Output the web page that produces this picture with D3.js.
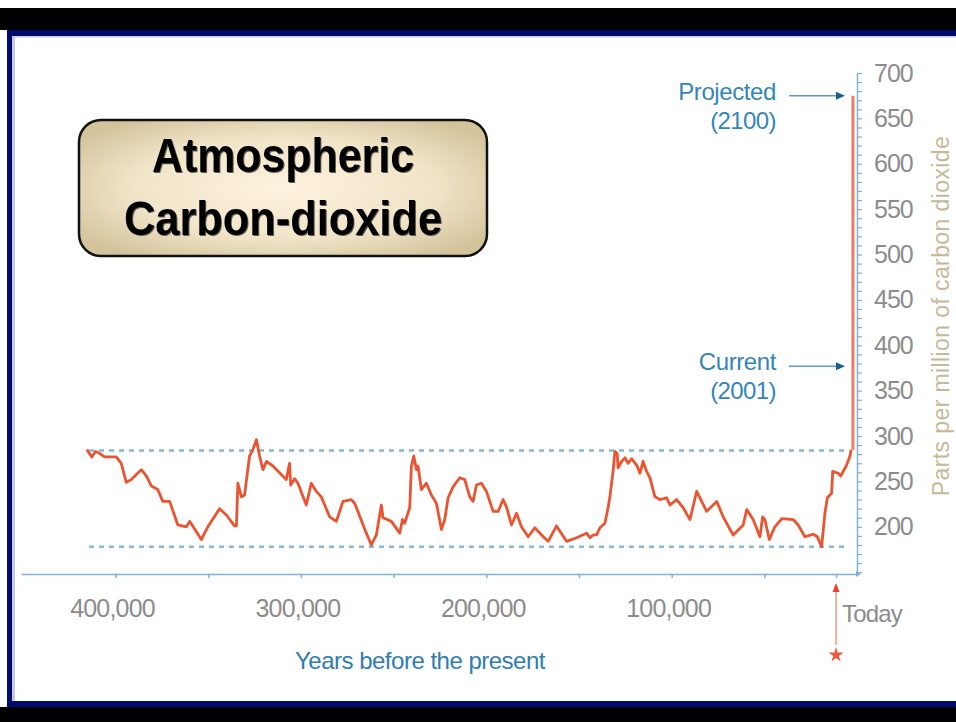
<!DOCTYPE html>
<html>
<head>
<meta charset="utf-8">
<script src="https://cdn.jsdelivr.net/npm/d3@7"></script>
<style>
  body { margin: 0; background: #fff; }
  svg { display: block; font-family: "Liberation Sans", Arial, sans-serif; }
</style>
</head>
<body>
<svg id="svg" width="956" height="722"></svg>
<script>
"use strict";
var width = 956;
var height = 722;

// ice core record, years before present
var iceYears = [415500, 412800, 410800, 408600, 405900, 399600, 396900, 394200, 391500, 386100,
    383400, 380700, 377200, 374500, 370800, 366400, 361800, 360000, 353700, 350200,
    343900, 340200, 335800, 334800, 334000, 332100, 330400, 327700, 325900, 324000,
    322300, 320500, 318600, 315100, 307900, 306100, 305500, 303400, 301600, 297100,
    294400, 291700, 289000, 284500, 280900, 277300, 272800, 271000, 264700, 262000,
    259300, 256600, 255700, 251200, 246700, 245200, 244000, 241300, 240400, 239100,
    237700, 236800, 235000, 232300, 229600, 226900, 224200, 222400, 220600, 217900,
    216500, 214300, 211600, 208900, 207100, 205300, 202600, 199900, 196300, 193600,
    190900, 189100, 186400, 183700, 181000, 177400, 173800, 169300, 166600, 162100,
    156700, 151300, 145900, 144100, 142300, 140500, 138700, 136000, 134200, 133300,
    131500, 130600, 129400, 128900, 127000, 125200, 123500, 121600, 118900, 117100,
    115400, 113500, 111700, 109000, 106300, 102700, 100900, 97300, 93800, 90100,
    86500, 81100, 75700, 72200, 66800, 61400, 59500, 56000, 52400, 50900,
    49700, 47300, 44300, 40600, 34400, 31700, 28100, 23600, 21400, 19100,
    17300, 16000, 13700, 13100, 10100, 8800, 5600, 3800, 3200];
// parts per million CO2
var icePpm = [285, 277, 283, 281, 277, 277, 270, 249, 252, 263,
    256, 245, 241, 228, 228, 202, 200, 206, 186, 200,
    220, 213, 201, 201, 248, 233, 235, 278, 285, 296,
    278, 263, 272, 267, 252, 270, 246, 253, 248, 224,
    248, 239, 233, 211, 206, 228, 230, 226, 193, 180,
    191, 224, 210, 206, 193, 208, 204, 221, 267, 278,
    263, 267, 241, 248, 235, 226, 197, 208, 232, 244,
    248, 254, 252, 233, 228, 246, 248, 239, 217, 217,
    230, 222, 202, 215, 200, 189, 199, 189, 184, 201,
    184, 188, 193, 188, 191, 191, 199, 204, 222, 233,
    263, 283, 281, 265, 272, 276, 270, 275, 268, 259,
    272, 261, 254, 233, 230, 232, 224, 230, 221, 208,
    239, 217, 228, 211, 191, 202, 219, 208, 189, 211,
    208, 186, 200, 209, 208, 202, 189, 192, 189, 178,
    215, 232, 237, 261, 259, 256, 268, 278, 285];

// industrial rise up to the 2100 projection
var modernYears = [2200, 2200];
var modernPpm = [285, 675];

// glacial / interglacial bounds (dotted lines)
var boundsPpm = [284, 178];

var yTicksLabelled = d3.range(200, 701, 50);
var yTicksMinor = d3.range(150, 701, 10);
var xTicks = d3.range(50000, 400001, 50000);
var xTicksLabelled = [400000, 300000, 200000, 100000];
var todayYears = 11300;

var annotations = [
    { lines: ["Projected", "(2100)"], ppm: 675 },
    { lines: ["Current", "(2001)"], ppm: 377 }
];

var svg = d3.select("#svg");

// frame of the slide
svg.append("rect").attr("x", 0).attr("y", 8).attr("width", width).attr("height", 22).attr("fill", "#000");
svg.append("rect").attr("x", 0).attr("y", 707).attr("width", width).attr("height", 15).attr("fill", "#000");
svg.append("rect").attr("x", 7).attr("y", 30).attr("width", width - 7).attr("height", 6).attr("fill", "#000b6e");
svg.append("rect").attr("x", 7).attr("y", 30).attr("width", 5).attr("height", 677).attr("fill", "#000b6e");
svg.append("rect").attr("x", 7).attr("y", 701).attr("width", width - 7).attr("height", 6).attr("fill", "#000b6e");
svg.append("rect").attr("x", 12).attr("y", 36).attr("width", 3).attr("height", 665).attr("fill", "#c9c6ea");
svg.append("rect").attr("x", 12).attr("y", 36).attr("width", width - 12).attr("height", 1.5).attr("fill", "#c9c6ea");

var x = d3.scaleLinear().domain([451000, 0]).range([21, 857]);
var y = d3.scaleLinear().domain([148, 700]).range([574, 73]);

var axisBlue = "#7fb0d6";

// dotted bounds
svg.selectAll("line.bound")
    .data(boundsPpm)
    .enter()
    .append("line")
    .attr("class", "bound")
    .attr("x1", 89)
    .attr("x2", 849)
    .attr("y1", function (d) { return y(d); })
    .attr("y2", function (d) { return y(d); })
    .attr("stroke", "#86b7dc")
    .attr("stroke-width", 2.6)
    .attr("stroke-dasharray", "5,5");

// x axis
var xAxisG = svg.append("g").attr("transform", "translate(0," + y(148) + ")");
xAxisG.call(d3.axisBottom(x).tickValues(xTicks.concat([todayYears])).tickSize(4).tickSizeOuter(0).tickFormat(""));
xAxisG.selectAll("path, line").attr("stroke", axisBlue).attr("stroke-width", 1.5);
xAxisG.append("path")
    .attr("d", "M" + (x(0) - 1) + ",-3L" + (x(0) + 4) + ",0L" + (x(0) - 1) + ",3Z")
    .attr("fill", axisBlue);

svg.selectAll("text.xlab")
    .data(xTicksLabelled)
    .enter()
    .append("text")
    .attr("class", "xlab")
    .attr("x", function (d) { return x(d) - 3; })
    .attr("y", 617)
    .attr("text-anchor", "middle")
    .attr("font-size", 25)
    .attr("letter-spacing", -0.8)
    .attr("fill", "#8c8c8c")
    .text(d3.format(","));

svg.append("text")
    .attr("x", 842)
    .attr("y", 622)
    .attr("font-size", 24)
    .attr("letter-spacing", -0.8)
    .attr("fill", "#8c8c8c")
    .text("Today");

svg.append("text")
    .attr("x", 420)
    .attr("y", 669)
    .attr("text-anchor", "middle")
    .attr("font-size", 24)
    .attr("letter-spacing", -0.5)
    .attr("fill", "#2f7db2")
    .text("Years before the present");

// today marker
var tx = x(todayYears);
svg.append("line")
    .attr("x1", tx).attr("x2", tx)
    .attr("y1", 645).attr("y2", 590)
    .attr("stroke", "#f39a82").attr("stroke-width", 1.5);
svg.append("path")
    .attr("d", "M" + (tx - 3.5) + ",592L" + tx + ",583L" + (tx + 3.5) + ",592Z")
    .attr("fill", "#e8412c");
svg.append("path")
    .attr("d", d3.symbol(d3.symbolStar).size(70)())
    .attr("transform", "translate(" + tx + ",655)")
    .attr("fill", "#ec5a3c");

// y axis on the right
var yAxisG = svg.append("g").attr("transform", "translate(" + x(0) + ",0)");
yAxisG.call(d3.axisRight(y).tickValues(yTicksMinor).tickSize(5).tickSizeOuter(0).tickFormat(""));
yAxisG.selectAll("path, line").attr("stroke", axisBlue).attr("stroke-width", 1.2);
yAxisG.select("path.domain").attr("stroke-width", 1.5);

var yLabG = svg.append("g").attr("transform", "translate(" + x(0) + ",0)");
yLabG.call(d3.axisRight(y).tickValues(yTicksLabelled).tickSize(0).tickPadding(17));
yLabG.select("path.domain").remove();
yLabG.selectAll("text")
    .attr("font-size", 25)
    .attr("font-family", "Liberation Sans, Arial, sans-serif")
    .attr("letter-spacing", -1)
    .attr("fill", "#8c8c8c");

svg.append("text")
    .attr("transform", "translate(949," + 316 + ") rotate(-90)")
    .attr("text-anchor", "middle")
    .attr("font-size", 23)
    .attr("letter-spacing", 0.4)
    .attr("fill", "#c7b898")
    .text("Parts per million of carbon dioxide");

// CO2 line
var line = d3.line()
    .x(function (d) { return x(d[0]); })
    .y(function (d) { return y(d[1]); });

svg.append("path")
    .datum(d3.zip(modernYears, modernPpm))
    .attr("d", line)
    .attr("fill", "none")
    .attr("stroke", "#f07a5c")
    .attr("stroke-width", 3);

svg.append("path")
    .datum(d3.zip(iceYears, icePpm))
    .attr("d", line)
    .attr("fill", "none")
    .attr("stroke", "#ea5430")
    .attr("stroke-width", 2.8)
    .attr("stroke-linejoin", "round");

// annotations with arrows
var ann = svg.selectAll("g.ann")
    .data(annotations)
    .enter()
    .append("g")
    .attr("class", "ann");
ann.each(function (d) {
    var g = d3.select(this);
    var yy = y(d.ppm);
    g.append("text")
        .attr("x", 776)
        .attr("y", yy + 4)
        .attr("text-anchor", "end")
        .attr("font-size", 24)
        .attr("letter-spacing", -0.4)
        .attr("fill", "#3486ba")
        .text(d.lines[0]);
    g.append("text")
        .attr("x", 776)
        .attr("y", yy + 33)
        .attr("text-anchor", "end")
        .attr("font-size", 24)
        .attr("letter-spacing", -0.6)
        .attr("fill", "#3486ba")
        .text(d.lines[1]);
    g.append("line")
        .attr("x1", 789).attr("x2", 838)
        .attr("y1", yy).attr("y2", yy)
        .attr("stroke", "#5a9cc8").attr("stroke-width", 1.5);
    g.append("path")
        .attr("d", "M836," + (yy - 4) + "L845," + yy + "L836," + (yy + 4) + "Z")
        .attr("fill", "#1d5f8c");
});

// title box
var defs = svg.append("defs");
var grad = defs.append("radialGradient")
    .attr("id", "boxfill")
    .attr("cx", "50%").attr("cy", "50%").attr("r", "62%");
grad.append("stop").attr("offset", "0%").attr("stop-color", "#fdf2de");
grad.append("stop").attr("offset", "60%").attr("stop-color", "#f0e4c8");
grad.append("stop").attr("offset", "100%").attr("stop-color", "#d3c39b");
var shadow = defs.append("filter").attr("id", "tshadow");
shadow.append("feDropShadow").attr("dx", 1).attr("dy", 1).attr("stdDeviation", 0.6).attr("flood-color", "#000").attr("flood-opacity", 0.6);

svg.append("rect")
    .attr("x", 79).attr("y", 120)
    .attr("width", 408).attr("height", 136)
    .attr("rx", 22).attr("ry", 22)
    .attr("fill", "url(#boxfill)")
    .attr("stroke", "#111")
    .attr("stroke-width", 2.5);

svg.selectAll("text.title")
    .data(["Atmospheric", "Carbon-dioxide"])
    .enter()
    .append("text")
    .attr("class", "title")
    .attr("x", 283)
    .attr("y", function (d, i) { return 172 + i * 63; })
    .attr("text-anchor", "middle")
    .attr("font-size", 48)
    .attr("font-weight", "bold")
    .attr("fill", "#000")
    .attr("filter", "url(#tshadow)")
    .attr("textLength", function (d, i) { return i === 0 ? 262 : 318; })
    .attr("lengthAdjust", "spacingAndGlyphs")
    .text(function (d) { return d; });
</script>
</body>
</html>
